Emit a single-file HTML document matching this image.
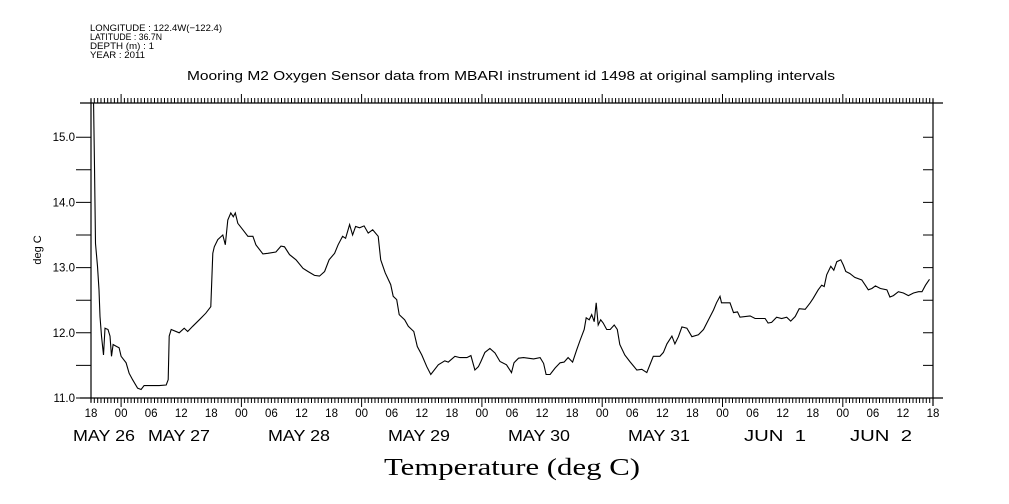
<!DOCTYPE html>
<html><head><meta charset="utf-8">
<style>
html,body{margin:0;padding:0;background:#fff;}
svg{display:block;}
text{font-family:"Liberation Sans",sans-serif;fill:#000;}
</style></head>
<body>
<svg id="chart" width="1009" height="504" viewBox="0 0 1009 504" xmlns="http://www.w3.org/2000/svg">
  <g font-size="9.5">
    <text x="90" y="31" textLength="132" lengthAdjust="spacingAndGlyphs">LONGITUDE : 122.4W(−122.4)</text>
    <text x="90" y="40" textLength="72" lengthAdjust="spacingAndGlyphs">LATITUDE : 36.7N</text>
    <text x="90" y="49" textLength="64" lengthAdjust="spacingAndGlyphs">DEPTH (m) : 1</text>
    <text x="90" y="58" textLength="55" lengthAdjust="spacingAndGlyphs">YEAR : 2011</text>
  </g>
  <text x="187" y="80" textLength="648" lengthAdjust="spacingAndGlyphs" font-size="13">Mooring M2 Oxygen Sensor data from MBARI instrument id 1498 at original sampling intervals</text>
  <text transform="translate(41,250) rotate(-90)" text-anchor="middle" font-size="11">deg C</text>
  <text x="384" y="475" textLength="256" lengthAdjust="spacingAndGlyphs" font-size="24" style="font-family:'Liberation Serif',serif">Temperature (deg C)</text>
  <g id="axes"></g>
  <g id="series"></g>
</svg>
<script>
// hours since MAY 26 18:00
const times = [0.5,0.7,0.9,1.3,1.6,1.8,2.1,2.5,2.8,3.4,3.8,4.1,4.4,5.1,5.6,6.0,7.0,7.6,8.3,9.3,10.0,10.6,12.0,13.6,15.0,15.4,15.6,16.0,17.6,18.6,19.3,20.3,21.6,22.9,23.9,24.3,24.6,25.3,26.3,26.8,27.3,27.9,28.4,28.8,29.3,30.3,31.3,32.3,32.9,34.3,35.3,36.9,37.9,38.6,39.6,40.9,42.3,43.3,44.6,45.6,46.6,47.5,48.6,49.3,50.2,50.8,51.6,52.2,52.8,53.6,54.5,55.3,56.2,57.3,57.8,58.7,59.8,60.3,61.0,61.5,62.6,63.3,64.4,65.1,66.0,67.0,67.8,69.3,70.6,71.3,72.6,73.6,75.0,75.8,76.2,76.6,77.3,77.8,78.6,79.6,80.6,81.6,82.9,83.9,84.4,85.3,86.3,88.3,89.6,90.3,90.8,91.6,92.6,93.6,94.4,95.2,96.1,96.9,97.6,98.4,98.8,99.4,99.9,100.4,100.8,101.2,101.7,102.2,102.9,103.6,104.4,105.0,105.5,106.5,107.5,108.9,109.9,110.9,112.2,113.5,114.2,114.9,115.9,116.5,117.2,117.9,118.9,119.9,121.2,122.2,123.2,124.2,124.8,125.5,125.8,126.7,127.5,128.2,129.0,129.5,131.5,132.5,134.5,135.1,135.8,136.8,137.8,138.8,139.6,140.5,141.3,142.5,143.5,144.1,145.1,145.8,146.3,146.8,147.6,148.2,148.8,149.6,150.1,150.6,151.4,152.4,153.8,154.5,155.1,155.8,156.5,157.5,158.8,159.4,160.1,161.1,162.1,163.1,164.1,165.1,165.8,166.5,167.3];
const temps = [15.6,14.55,13.37,13.02,12.66,12.25,11.95,11.66,12.07,12.05,11.95,11.64,11.82,11.79,11.77,11.64,11.54,11.38,11.28,11.15,11.13,11.19,11.19,11.19,11.2,11.28,11.95,12.05,12.0,12.07,12.02,12.1,12.2,12.3,12.4,13.22,13.32,13.43,13.5,13.35,13.73,13.84,13.78,13.84,13.68,13.58,13.48,13.48,13.35,13.21,13.22,13.24,13.33,13.32,13.2,13.12,12.99,12.94,12.88,12.87,12.94,13.12,13.22,13.35,13.48,13.45,13.66,13.5,13.63,13.61,13.64,13.53,13.58,13.48,13.12,12.92,12.74,12.56,12.51,12.28,12.2,12.1,12.02,11.79,11.66,11.48,11.36,11.51,11.57,11.55,11.64,11.62,11.62,11.65,11.54,11.43,11.48,11.56,11.7,11.76,11.69,11.56,11.51,11.39,11.54,11.61,11.62,11.6,11.62,11.53,11.36,11.36,11.46,11.54,11.55,11.62,11.55,11.74,11.89,12.05,12.23,12.2,12.28,12.17,12.46,12.12,12.2,12.15,12.05,12.05,12.12,12.05,11.82,11.66,11.56,11.43,11.44,11.39,11.64,11.64,11.7,11.83,11.95,11.83,11.94,12.09,12.07,11.94,11.97,12.05,12.2,12.35,12.46,12.56,12.46,12.46,12.46,12.31,12.32,12.24,12.26,12.22,12.22,12.15,12.16,12.24,12.22,12.24,12.18,12.25,12.37,12.36,12.46,12.53,12.66,12.73,12.71,12.89,13.02,12.96,13.09,13.12,13.04,12.94,12.91,12.85,12.81,12.73,12.66,12.68,12.72,12.68,12.66,12.55,12.57,12.63,12.61,12.57,12.61,12.63,12.63,12.73,12.82];
const yTickLabels = ["11.0","12.0","13.0","14.0","15.0"];
const hourLabels = ["18","00","06","12","18","00","06","12","18","00","06","12","18","00","06","12","18","00","06","12","18","00","06","12","18","00","06","12","18"];
const dayLabels = ["MAY 26","MAY 27","MAY 28","MAY 29","MAY 30","MAY 31","JUN  1","JUN  2"];
const dayLabelX = [105,180,300,420,540,660,776,882];

const L=91,R=933,T=103,B=398, HOURS=168, YMIN=11, YMAX=15.525;
const xs = h => L + (R-L)*h/HOURS;
const ys = v => B - (B-T)*(v-YMIN)/(YMAX-YMIN);
const NS="http://www.w3.org/2000/svg";
const axes=document.getElementById('axes'), series=document.getElementById('series');
function mk(tag,attrs,parent){const e=document.createElementNS(NS,tag);for(const k in attrs)e.setAttribute(k,attrs[k]);parent.appendChild(e);return e;}

let l;
l=mk('line',{x1:80,y1:B,x2:943,y2:B,stroke:'#000','stroke-width':1.2},axes);


l=mk('line',{x1:80,y1:T,x2:943,y2:T,stroke:'#000','stroke-width':1.2},axes);


l=mk('line',{x1:L,y1:T-4,x2:L,y2:B+4,stroke:'#000','stroke-width':1.2},axes);


l=mk('line',{x1:R,y1:T-4,x2:R,y2:B+8,stroke:'#000','stroke-width':1.2},axes);



let d='';
for(let m=0;m<=HOURS*60;m+=40){const x=xs(m/60).toFixed(1);d+=`M${x} ${B}v5M${x} ${T}v-5`;}
for(let h=6;h<=HOURS;h+=24){const x=xs(h).toFixed(1);d+=`M${x} ${B}v9M${x} ${T}v-9`;}
l=mk('path',{d:d,stroke:'#000','stroke-width':1,fill:'none'},axes);



hourLabels.forEach((s,i)=>{
  const t=mk('text',{x:xs(i*6),y:417,'text-anchor':'middle','font-size':11.5},axes);
  t.textContent=s;
  
  
});
dayLabels.forEach((s,i)=>{
  const t=mk('text',{x:dayLabelX[i]-32,y:441,'font-size':15.5,textLength:62,lengthAdjust:'spacingAndGlyphs',style:'white-space:pre'},axes);
  t.textContent=s;
  
  
});

let yd='';
for(let v=11;v<=15.01;v+=0.5){const y=ys(v).toFixed(1);yd+=`M${L-15} ${y}H${L}M${R} ${y}h-10`;}
l=mk('path',{d:yd,stroke:'#000','stroke-width':1,fill:'none'},axes);


yTickLabels.forEach(s=>{
  const t=mk('text',{x:75,y:ys(parseFloat(s))+4,'text-anchor':'end','font-size':11.5},axes);
  t.textContent=s;
  
  
});

mk('clipPath',{id:'clip'},series).appendChild(document.createElementNS(NS,'rect'));
const cr=series.querySelector('#clip rect');cr.setAttribute('x',L);cr.setAttribute('y',T);cr.setAttribute('width',R-L);cr.setAttribute('height',B-T);
const pd=times.map((t,i)=>(i?'L':'M')+xs(t).toFixed(1)+' '+ys(temps[i]).toFixed(1)).join('');
l=mk('path',{d:pd,stroke:'#000','stroke-width':1.1,fill:'none','clip-path':'url(#clip)'},series);


</script>
</body></html>
